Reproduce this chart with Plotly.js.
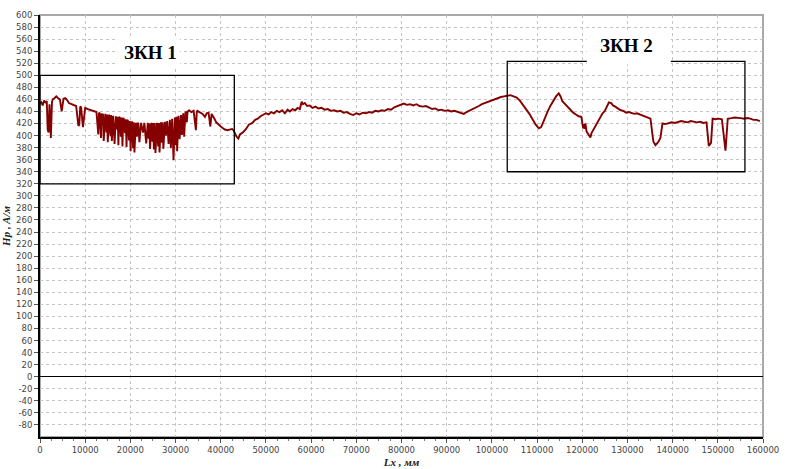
<!DOCTYPE html>
<html><head><meta charset="utf-8">
<script src="https://cdn.plot.ly/plotly-3.0.1.min.js"></script>
<style>html,body{margin:0;padding:0;background:#fff}#c{width:801px;height:469px}</style>
</head><body><div id="c"></div>
<script>
// Lx, mm
const lx = [
0,300,600,900,1200,1500,1700,1900,2100,2400,2650,2800,3200,3600,4000,4400,4800,5050,5200,5600,6000,6400,6900,7400,8000,8500,8700,8900,9100,9500,9850,10000,10600,11200,11800,12100,
12500,12900,13050,13200,13500,13650,13800,13950,14100,14300,14450,14700,14850,15000,15150,15300,15600,15750,15900,16050,16200,16500,16650,16800,17050,17200,17350,17500,17650,17900,18100,18250,18400,18550,18800,19000,19150,19300,19450,19700,19900,20050,20250,20400,20600,20750,20900,21050,21200,21450,21600,21750,22000,22200,22350,22800,22950,23100,23500,23700,23850,24050,24200,24350,24500,24650,24900,25050,25200,25400,25550,25750,25900,26150,26300,26450,26600,26750,27000,27150,27300,27500,27650,27850,28000,28150,28450,28600,28750,28950,29100,29250,29550,29700,29850,30050,30200,30350,30500,30650,30900,31050,31200,31400,31550,31700,31900,32050,32200,32500,32650,32800,
33000,33500,34000,34500,34700,34850,35000,35500,36000,36500,36900,37300,37700,37980,38200,38600,39000,39500,40000,40500,40900,41500,42000,42500,42800,43100,43500,43900,
44250,45000,45600,46200,47000,47600,48200,48800,49400,50000,50600,51200,51800,52400,53000,53600,54200,54800,55300,55900,56500,57000,57500,57900,58200,58600,59100,59700,60300,61000,61600,62300,63000,63700,64400,65100,65800,66500,67200,67900,68600,69300,70000,70700,71400,72100,72800,73500,74200,74900,75600,76300,77000,77700,78400,79100,79800,80500,81200,81900,82600,83300,84000,84700,85400,86100,86800,87500,88200,88900,89600,90300,91000,91700,92400,93100,93800,94400,95000,95700,96400,97100,97800,98500,99200,99900,100600,101300,102000,102700,103400,104100,104800,105500,
106200,106900,107600,108300,109000,109700,110400,110900,111300,111800,112400,113000,113600,114200,114800,115200,115600,116200,116800,117400,118000,118600,119200,119800,120200,120300,120500,120700,120950,121200,121500,121800,122050,122400,122800,123300,123900,124500,125000,125500,125900,126400,126800,127300,127900,128500,129100,129700,130300,130900,131500,132100,132700,133300,133900,134500,135100,135600,135750,136200,136800,137300,137600,137750,138400,139100,139800,140500,141200,141900,142600,143300,144000,144700,145400,146100,146800,147500,147900,148000,148500,148750,148850,149500,150200,150900,151600,151700,152200,152350,153000,153700,154400,155100,155800,156500,157200,157900,158600,159300,160000
];
// Hp, A/m
const hp = [
452,455,450,458,455,457,410,405,452,396,455,460,462,465,462,460,440,459,461,462,459,454,452,450,449,416,418,448,447,414,446,446,444,442,441,
440,439,402,438,437,396,437,418,436,391,436,436,405,435,389,434,435,399,434,391,433,433,386,432,432,410,431,384,431,430,398,430,382,429,428,404,427,381,426,425,392,424,374,423,422,379,422,372,421,421,398,421,420,389,421,421,405,421,421,387,421,421,395,420,378,420,421,390,421,377,421,371,421,421,382,421,372,422,422,388,422,378,423,423,400,424,424,386,425,426,379,427,428,359,429,430,384,431,374,432,433,394,434,434,401,436,437,398,438,440,422,441,
440,442,439,441,409,440,441,440,438,436,431,437,438,415,436,432,428,422,418,415,412,410,409,410,411,409,403,398,
395,402,406,411,418,421,426,428,432,434,437,435,439,437,441,439,442,437,443,440,444,442,446,444,456,452,454,449,450,446,448,445,446,443,444,441,442,440,441,438,439,436,434,437,435,438,437,439,438,441,440,442,441,444,443,447,449,451,453,451,452,450,452,449,448,449,446,444,445,442,443,441,442,440,441,439,437,436,439,441,444,447,449,452,454,457,458,461,462,464,465,466,467,465,
463,458,451,444,436,427,418,412,414,421,431,441,450,458,465,470,465,457,452,447,443,438,435,432,431,412,419,411,420,407,404,401,397,404,409,415,422,430,437,441,448,455,454,450,448,445,442,441,438,439,437,436,437,435,433,432,430,428,398,390,384,389,396,419,420,419,421,422,421,423,424,423,422,424,423,422,423,421,422,386,383,388,427,428,427,428,427,376,375,428,428,429,430,430,429,428,429,428,426,426,424
];
const yTicks = [-80,-60,-40,-20,0,20,40,60,80,100,120,140,160,180,200,220,240,260,280,300,320,340,360,380,400,420,440,460,480,500,520,540,560,580,600];
const xTicks = [0,10000,20000,30000,40000,50000,60000,70000,80000,90000,100000,110000,120000,130000,140000,150000,160000];
const zones = ['ЗКН 1','ЗКН 2'];

const tickFont = {family:'DejaVu Sans, sans-serif', size:8.5, color:'#444'};
const titleFont = {family:'Liberation Serif, serif', size:11, color:'#222', style:'italic', weight:'bold'};
const grid = {showgrid:true, gridcolor:'#c4c4c4', gridwidth:1, griddash:'3px,3px'};

Plotly.newPlot('c', [{
  x: lx, y: hp, type:'scatter', mode:'lines',
  line:{color:'#850000', width:1.9}, hoverinfo:'skip'
}], {
  width:801, height:469,
  margin:{l:40, r:37.5, t:15, b:32},
  paper_bgcolor:'#fff', plot_bgcolor:'#fff', showlegend:false,
  xaxis:Object.assign({
    range:[0,160000], tickmode:'array', tickvals:xTicks, ticktext:xTicks.map(String),
    tickfont:tickFont, ticks:'outside', ticklen:4, tickcolor:'#555',
    minor:{dtick:2500, ticks:'outside', ticklen:2, tickcolor:'#777', showgrid:false},
    showline:true, linecolor:'#000', linewidth:2, zeroline:false,
    title:{text:'Lx , мм', font:titleFont, standoff:4}
  }, grid),
  yaxis:Object.assign({
    range:[-100,600], tickmode:'array', tickvals:yTicks, ticktext:yTicks.map(String),
    tickfont:tickFont, ticks:'outside', ticklen:4, tickcolor:'#555',
    showline:true, linecolor:'#000', linewidth:2,
    zeroline:true, zerolinecolor:'#000', zerolinewidth:1.5,
    title:{text:'Hp , A/м', font:titleFont, standoff:6}
  }, grid),
  shapes:[
    {type:'rect', xref:'paper', yref:'paper', x0:0, x1:1, y0:0, y1:1, line:{color:'#a8a8a8', width:2}, layer:'below'},
    {type:'rect', xref:'x', yref:'y', x0:0, x1:43000, y0:320, y1:500, line:{color:'#000', width:1.3}, layer:'above'},
    {type:'rect', xref:'x', yref:'y', x0:103400, x1:156000, y0:340, y1:523, line:{color:'#000', width:1.3}, layer:'above'},
    {type:'rect', xref:'x', yref:'y', x0:17300, x1:31000, y0:515, y1:562, fillcolor:'#fff', line:{width:0}, layer:'above'},
    {type:'rect', xref:'x', yref:'y', x0:121000, x1:139600, y0:518.5, y1:572, fillcolor:'#fff', line:{width:0}, layer:'above'}
  ],
  annotations:[
    {x:24400, y:537, xref:'x', yref:'y', text:zones[0], showarrow:false, font:{family:'Liberation Serif, serif', size:19, color:'#000', weight:'bold'}},
    {x:129900, y:550, xref:'x', yref:'y', text:zones[1], showarrow:false, font:{family:'Liberation Serif, serif', size:19, color:'#000', weight:'bold'}}
  ]
}, {displayModeBar:false, staticPlot:true});
</script></body></html>
